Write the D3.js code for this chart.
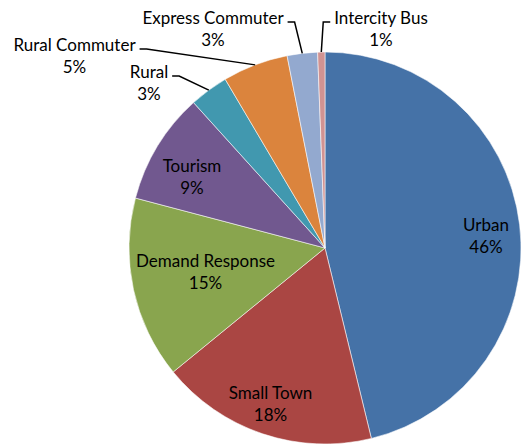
<!DOCTYPE html>
<html>
<head>
<meta charset="utf-8">
<script src="https://cdn.jsdelivr.net/npm/d3@7"></script>
<style>
  html, body { margin: 0; padding: 0; background: #fff; }
  svg { display: block; }
  text { font-family: Lato, "Open Sans", sans-serif; font-size: 17px; fill: #000; }
</style>
</head>
<body>
<svg id="chart" width="521" height="444"></svg>
<script>
// ---- data ----
const categories = ["Urban", "Small Town", "Demand Response", "Tourism", "Rural", "Rural Commuter", "Express Commuter", "Intercity Bus"];
const shares = [46.2, 17.9, 15.0, 9.2, 3.2, 5.4, 2.5, 0.6];
const percentLabels = ["46%", "18%", "15%", "9%", "3%", "5%", "3%", "1%"];

// ---- styles / layout ----
const colors = ["#4572A7", "#AA4643", "#89A54E", "#71588F", "#4198AF", "#DB843D", "#93A9CF", "#D19392"];
// label anchor (first-line baseline) relative to pie centre, and leader side
const labelLayout = [
  { dx: 161, dy: -17, leader: null },
  { dx: -54.5, dy: 151, leader: null },
  { dx: -119.5, dy: 19, leader: null },
  { dx: -133, dy: -76, leader: null },
  { dx: -176, dy: -170, leader: "right" },
  { dx: -250.5, dy: -197, leader: "right" },
  { dx: -112, dy: -224, leader: "right" },
  { dx: 56, dy: -224, leader: "left" }
];
const cx = 325, cy = 248, radius = 196, lineGap = 22;

const svg = d3.select("#chart");
const g = svg.append("g").attr("transform", `translate(${cx},${cy})`);

const pie = d3.pie().sort(null).value(d => d.v);
const arcs = pie(categories.map((c, i) => ({ c, v: shares[i], i })));
const arc = d3.arc().innerRadius(0).outerRadius(radius);
const edgeArc = d3.arc().innerRadius(radius).outerRadius(radius);

g.selectAll("path.slice")
  .data(arcs)
  .join("path")
  .attr("class", "slice")
  .attr("d", arc)
  .attr("fill", d => colors[d.data.i])
  .attr("stroke", "rgba(255,255,255,0.55)")
  .attr("stroke-width", 1);

// labels
const labels = g.selectAll("text.lbl")
  .data(arcs)
  .join("text")
  .attr("class", "lbl")
  .attr("text-anchor", "middle")
  .attr("x", d => labelLayout[d.data.i].dx)
  .attr("y", d => labelLayout[d.data.i].dy);

labels.append("tspan")
  .attr("x", d => labelLayout[d.data.i].dx)
  .text(d => d.data.c);
labels.append("tspan")
  .attr("x", d => labelLayout[d.data.i].dx)
  .attr("dy", lineGap)
  .text(d => percentLabels[d.data.i]);

// leader lines for outside labels
labels.each(function (d) {
  const L = labelLayout[d.data.i];
  if (!L.leader) return;
  const first = this.querySelector("tspan");
  const half = first.getComputedTextLength() / 2;
  const y = L.dy - 2;
  const sign = L.leader === "right" ? 1 : -1;
  const x0 = L.dx + sign * (half + 4);
  const x1 = L.dx + sign * (half + 11);
  // point on pie edge at the slice's mid angle
  const mid = (d.startAngle + d.endAngle) / 2;
  const px = Math.sin(mid) * radius;
  const py = -Math.cos(mid) * radius;
  g.append("path")
    .attr("d", d3.line()([[x0, y], [x1, y], [px, py]]))
    .attr("fill", "none")
    .attr("stroke", "#000")
    .attr("stroke-width", 1.5);
});
</script>
</body>
</html>
